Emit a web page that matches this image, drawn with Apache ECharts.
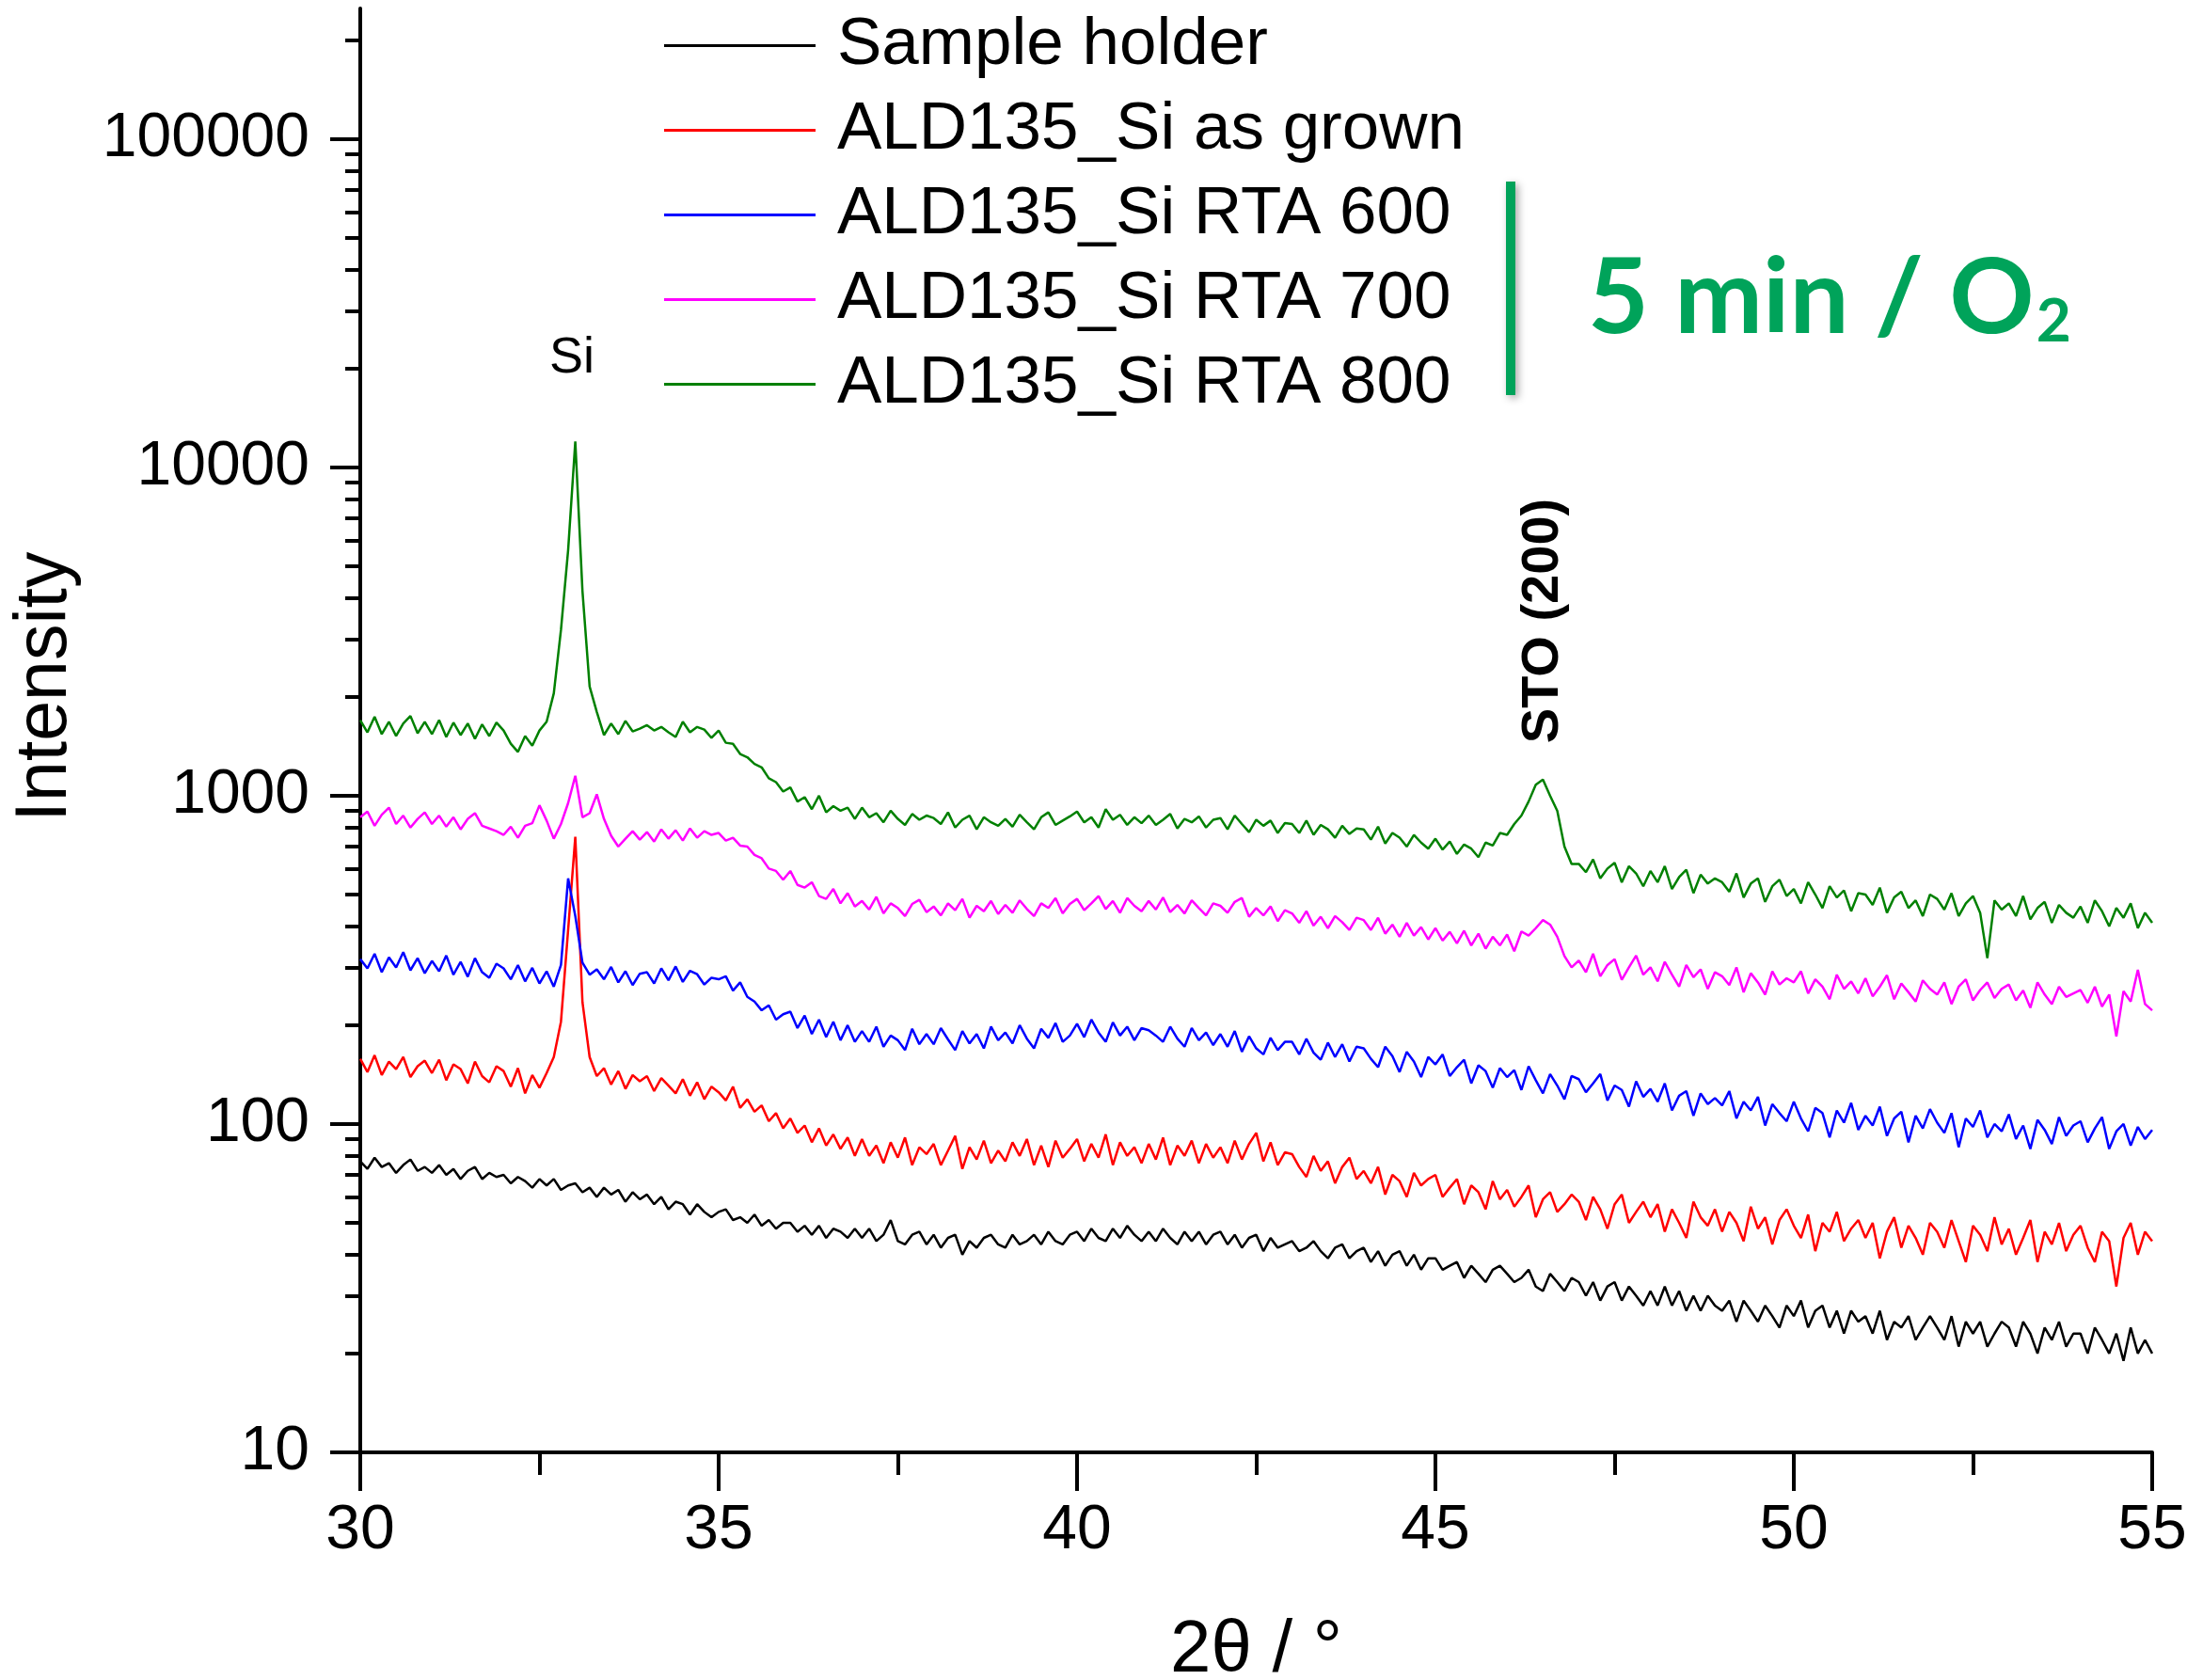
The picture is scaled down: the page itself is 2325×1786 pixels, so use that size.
<!DOCTYPE html>
<html>
<head>
<meta charset="utf-8">
<script src="https://cdn.jsdelivr.net/npm/echarts@6/dist/echarts.min.js"></script>
<style>
html,body{margin:0;padding:0;background:#fff;}
#chart{width:2325px;height:1786px;}
</style>
</head>
<body>
<div id="chart"></div>
<script>
// 2θ sampling: 30.0 .. 55.0, step 0.1
const thetaStart = 30.0;
const thetaStep = 0.1;

const seriesNames = ["Sample holder", "ALD135_Si as grown", "ALD135_Si RTA 600", "ALD135_Si RTA 700", "ALD135_Si RTA 800"];
const seriesColors = ["#000000", "#ff0000", "#0000ff", "#ff00ff", "#008000"];

const sampleHolder = [
77,73,79,74,76,71,75,78,72,74,
71,75,70,73,68,72,74,68,71,69,
70,66,69,67,64,68,65,68,63,65,
66,62,64,60,64,61,63,58,62,59,
61,57,60,55,58,57,53,57,54,52,
54,55,51,52,50,53,49,51,48,50,
50,47,49,46,49,45,48,47,45,48,
45,48,44,46,51,44,43,46,47,43,
46,42,45,46,40,44,42,45,46,43,
42,46,43,44,46,43,47,44,43,46,
47,44,48,45,44,48,45,49,46,44,
47,44,48,45,43,47,44,47,43,46,
47,43,46,42,45,46,41,45,42,43,
44,41,42,44,41,39,42,43,39,41,
42,38,41,37,40,41,37,40,36,39,
39,36,37,38,34,37,35,33,36,37,
35,33,34,36,32,31,35,33,31,34,
33,30,33,29,32,33,29,32,30,28,
31,28,32,28,31,27,30,27,30,28,
27,29,25,29,27,25,28,26,24,28,
26,29,24,27,28,24,27,23,27,25,
26,23,27,22,25,24,26,22,24,26,
24,22,26,21,25,23,25,21,23,25,
24,21,25,23,20,24,22,25,21,23,
23,20,24,22,20,23,19,24,20,22,
20];

const asGrown = [
158,144,162,141,155,147,160,139,150,156,
143,157,136,152,147,133,155,140,134,150,
145,130,148,124,141,129,143,160,205,390,
750,235,160,140,148,132,145,128,141,135,
140,126,138,131,124,137,122,134,119,130,
125,118,130,112,119,109,114,102,108,97,
104,94,99,88,97,86,93,84,91,80,
90,80,86,76,88,79,91,75,85,81,
87,75,83,92,73,85,78,89,76,83,
77,88,80,90,75,86,74,89,79,84,
90,77,87,79,93,75,88,80,85,76,
87,78,91,75,86,80,89,76,87,79,
85,76,89,78,87,94,77,88,75,82,
81,74,69,80,72,77,66,74,79,68,
72,66,74,61,70,67,60,71,65,68,
70,60,64,68,57,65,62,55,67,59,
63,56,60,65,52,59,62,54,57,61,
58,51,60,55,48,57,61,50,54,58,
52,57,47,55,50,45,58,52,49,55,
47,54,50,44,56,48,52,43,51,55,
49,45,53,41,50,47,54,44,48,51,
45,50,39,47,52,42,49,45,40,50,
47,42,51,44,38,49,46,41,52,43,
48,40,45,51,38,47,43,50,41,46,
49,42,38,47,44,32,45,50,40,47,
44];

const rta600 = [
318,298,330,290,322,300,334,294,320,288,
314,292,326,285,312,281,320,290,279,308,
298,276,305,272,299,268,292,262,305,560,
430,310,285,296,276,301,270,292,265,287,
290,268,298,274,302,271,293,286,266,279,
276,282,255,270,244,236,222,230,208,216,
220,196,214,188,208,184,205,180,200,178,
192,178,198,172,186,180,168,195,175,188,
175,196,181,168,192,176,188,170,198,180,
190,176,200,182,170,195,183,203,178,186,
202,184,208,190,178,204,186,198,180,196,
193,186,178,198,182,172,196,180,190,174,
188,172,192,166,185,170,163,183,168,178,
178,163,182,165,157,177,160,175,155,172,
170,158,149,172,161,144,166,155,139,160,
152,163,140,149,157,133,151,145,129,148,
139,146,127,150,136,124,142,131,119,140,
137,125,133,142,118,131,127,113,135,121,
128,117,133,110,122,126,106,124,115,120,
114,126,104,117,110,121,99,115,108,102,
117,104,95,112,108,91,110,101,116,96,
106,99,113,92,104,109,88,106,97,111,
101,94,108,85,104,98,110,91,100,95,
107,90,99,84,103,96,87,105,92,99,
102,88,97,105,84,95,100,86,98,90,
96];

const rta700 = [
860,895,810,875,920,820,870,800,850,890,
820,870,805,860,790,850,885,810,795,780,
760,805,745,810,825,935,840,740,820,950,
1150,860,885,1010,850,755,700,740,780,735,
775,725,790,740,785,730,795,745,780,760,
770,730,745,705,700,660,645,600,590,555,
590,535,525,545,495,485,520,470,505,460,
478,450,492,438,470,455,430,468,482,442,
460,432,470,448,485,425,462,445,478,436,
465,440,480,452,430,470,455,488,438,468,
485,448,470,495,452,478,440,488,462,445,
478,450,490,442,465,438,480,455,432,470,
462,440,475,488,428,455,432,460,415,448,
438,410,445,402,428,395,430,412,390,425,
418,390,425,380,405,372,410,375,398,365,
395,362,385,355,388,350,380,342,372,350,
378,336,386,375,395,418,405,372,325,300,
315,290,330,282,305,318,275,300,326,285,
300,272,312,285,262,305,280,296,258,290,
282,265,300,252,288,270,248,292,266,278,
270,292,250,276,262,240,285,258,272,250,
278,245,262,284,240,268,252,236,274,258,
248,270,232,262,276,238,256,270,242,258,
266,238,255,226,270,248,232,262,244,250,
256,234,262,228,248,185,254,236,295,232,
222];

const rta800 = [
1700,1560,1740,1540,1680,1520,1660,1750,1550,1680,
1540,1700,1510,1670,1530,1660,1490,1650,1520,1670,
1580,1440,1360,1520,1420,1580,1680,2050,3200,5600,
12000,4200,2150,1800,1530,1660,1540,1690,1570,1600,
1640,1580,1620,1560,1510,1680,1560,1620,1590,1500,
1580,1450,1440,1340,1310,1250,1220,1130,1100,1030,
1060,960,990,910,1000,890,930,900,920,850,
920,860,885,830,900,850,815,880,845,870,
855,820,890,800,845,870,790,860,830,810,
850,805,875,830,790,860,890,815,840,865,
895,830,860,800,910,845,875,815,860,825,
870,815,845,880,795,850,830,865,800,845,
855,790,870,820,775,845,810,840,770,825,
820,770,840,760,815,790,745,810,765,795,
790,735,805,715,770,745,700,760,720,690,
740,685,725,665,710,690,650,720,705,770,
760,820,870,960,1080,1120,1000,900,700,620,
620,585,640,560,600,625,545,610,580,530,
590,545,610,520,565,595,505,575,540,560,
545,510,580,490,540,560,475,530,555,495,
520,470,545,500,455,530,490,515,445,505,
500,465,525,440,490,510,455,480,430,500,
485,450,505,430,470,495,440,320,480,450,
470,430,495,420,455,475,410,465,440,425,
460,410,480,445,400,455,425,470,395,440,
410];

const xTicks = [30, 35, 40, 45, 50, 55];
const yMajorTicks = [10, 100, 1000, 10000, 100000];
const yMinorTicks = [20,30,40,50,60,70,80,90,200,300,400,500,600,700,800,900,2000,3000,4000,5000,6000,7000,8000,9000,20000,30000,40000,50000,60000,70000,80000,90000,200000];

const allSeries = [sampleHolder, asGrown, rta600, rta700, rta800];

function pairs(arr) {
  return arr.map((v, i) => [+(thetaStart + i * thetaStep).toFixed(2), v]);
}

const FONT = "'Liberation Sans', Arial, sans-serif";
const chart = echarts.init(document.getElementById('chart'), null, {renderer: 'canvas'});

const option = {
  backgroundColor: '#ffffff',
  animation: false,
  grid: {left: 383, right: 37, top: 9, bottom: 242, containLabel: false, outerBoundsMode: 'none'},
  legend: {
    orient: 'vertical',
    left: 706,
    top: 13,
    padding: 0,
    icon: 'rect',
    itemWidth: 161,
    itemHeight: 3,
    itemGap: 19,
    data: seriesNames,
    textStyle: {fontFamily: FONT, fontSize: 71, color: '#000', lineHeight: 70, padding: [0, 0, 0, 18]}
  },
  xAxis: {
    type: 'value',
    min: 30, max: 55, interval: 5,
    name: '2\u03b8 / \u00b0',
    nameLocation: 'middle',
    nameGap: 172,
    nameTextStyle: {fontFamily: FONT, fontSize: 78, color: '#000'},
    axisLine: {show: true, onZero: false, lineStyle: {color: '#000', width: 4}},
    axisTick: {show: true, length: 41, lineStyle: {color: '#000', width: 4}},
    minorTick: {show: true, splitNumber: 2, length: 24, lineStyle: {color: '#000', width: 4}},
    axisLabel: {fontFamily: FONT, fontSize: 66, color: '#000', margin: 51,
      customValues: xTicks},
    splitLine: {show: false},
    minorSplitLine: {show: false}
  },
  yAxis: [{
    type: 'log',
    logBase: 10,
    min: 10, max: 250000,
    axisLine: {show: true, onZero: false, lineStyle: {color: '#000', width: 4}},
    axisTick: {show: true, length: 32, lineStyle: {color: '#000', width: 4}, customValues: yMajorTicks},
    axisLabel: {fontFamily: FONT, fontSize: 66, color: '#000', margin: 54, customValues: yMajorTicks,
      formatter: v => String(Math.round(v))},
    splitLine: {show: false}
  }, {
    type: 'log',
    logBase: 10,
    min: 10, max: 250000,
    position: 'left',
    axisLine: {show: false},
    axisTick: {show: true, length: 16, lineStyle: {color: '#000', width: 4}, customValues: yMinorTicks},
    axisLabel: {show: false},
    splitLine: {show: false}
  }],
  series: allSeries.map((arr, i) => ({
    name: seriesNames[i],
    type: 'line',
    yAxisIndex: 0,
    data: pairs(arr),
    showSymbol: false,
    symbol: 'none',
    color: seriesColors[i],
    lineStyle: {color: seriesColors[i], width: 2.5},
    z: 2 + i
  })),
  graphic: [
    {type: 'text', x: 49, y: 730, rotation: Math.PI / 2, style: {text: 'Intensity', font: "77px 'Liberation Sans', Arial, sans-serif", fill: '#000', align: 'center', verticalAlign: 'middle'}},
    {type: 'text', x: 608, y: 381, style: {text: 'Si', font: "54px 'Liberation Sans', Arial, sans-serif", fill: '#000', align: 'center', verticalAlign: 'middle'}},
    {type: 'text', x: 1641, y: 660, rotation: Math.PI / 2, style: {text: 'STO (200)', font: "bold 56px 'Liberation Sans', Arial, sans-serif", fill: '#000', align: 'center', verticalAlign: 'middle'}},
    {type: 'rect', shape: {x: 1601, y: 193, width: 10, height: 227}, style: {fill: '#00a35a', shadowBlur: 8, shadowOffsetX: 3, shadowOffsetY: 3, shadowColor: 'rgba(0,0,0,0.35)'}},
    {type: 'text', x: 1688, y: 318, style: {
      text: '{a|5 min / O}{b|2}',
      verticalAlign: 'middle',
      rich: {
        a: {font: "bold 112px Lato, 'Open Sans', sans-serif", fill: '#00a35a', lineHeight: 112, verticalAlign: 'bottom'},
        b: {font: "bold 64px Lato, 'Open Sans', sans-serif", fill: '#00a35a', lineHeight: 64, verticalAlign: 'bottom', padding: [0, 0, 0, 2]}
      }
    }}
  ]
};
chart.setOption(option);
</script>
</body>
</html>
